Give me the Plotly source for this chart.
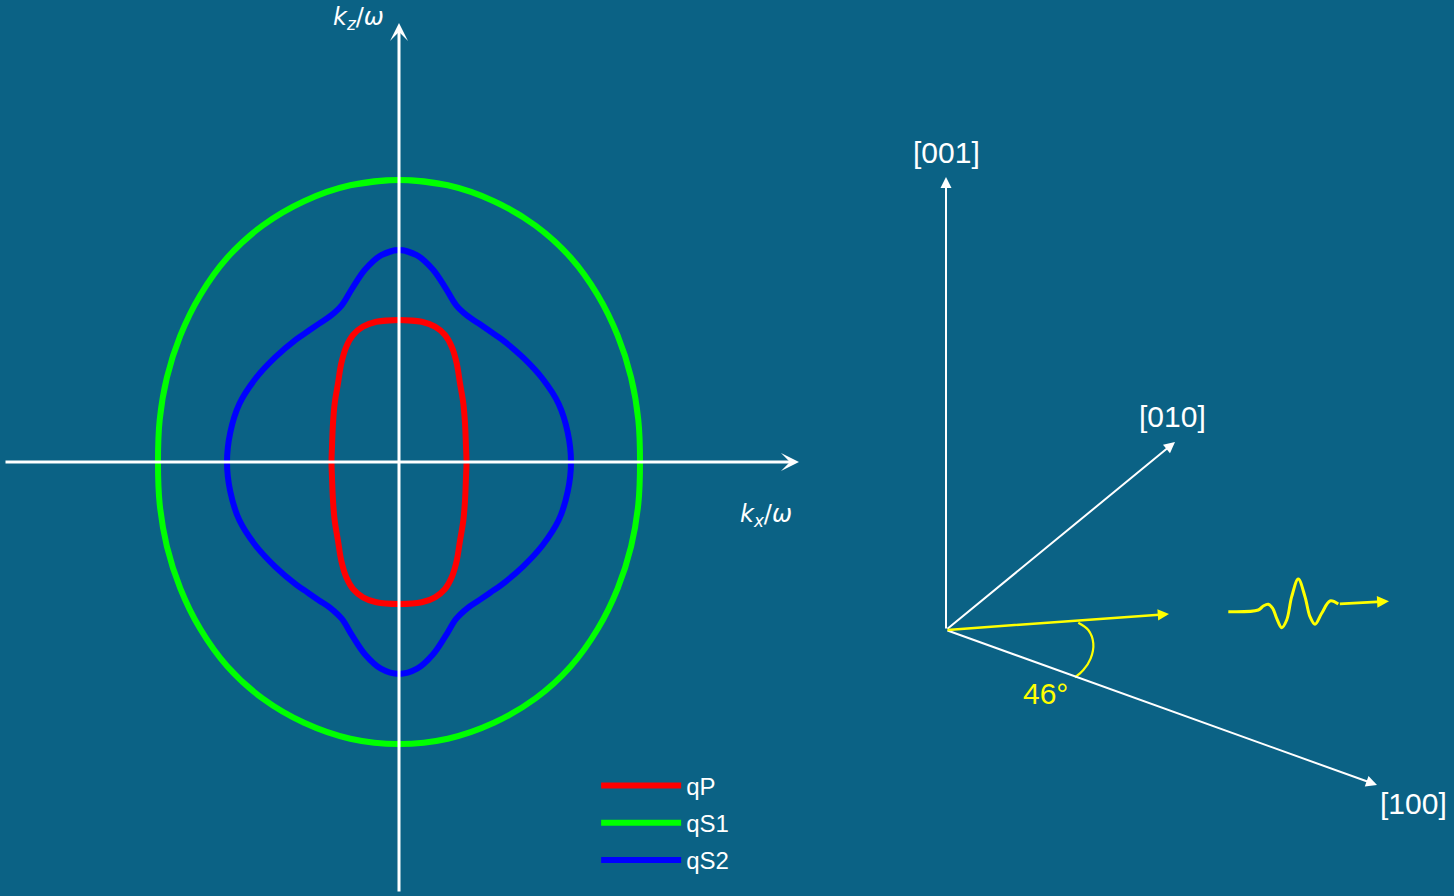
import numpy as np
import plotly.graph_objects as go

BG = "#0b6285"
WHITE = "#ffffff"
YELLOW = "#ffff00"

# ---------------- slowness curves (first quadrant, kx/ω , kz/ω) ----------------
series_names = ["qP", "qS1", "qS2"]
series_colors = ["#ff0000", "#00ff00", "#0000ff"]

qP_kx = [0.0, 0.0227, 0.0360, 0.0460, 0.0527, 0.0577, 0.0610, 0.0643, 0.0660, 0.0670, 0.0675]
qP_kz = [0.1420, 0.1403, 0.1353, 0.1270, 0.1153, 0.0987, 0.0787, 0.0587, 0.0387, 0.0153, 0.0]

qS1_kx = [0.0, 0.0488, 0.0949, 0.1365, 0.1716, 0.1988, 0.2187, 0.2321, 0.2393, 0.2410]
qS1_kz = [0.2820, 0.2767, 0.2608, 0.2364, 0.2045, 0.1668, 0.1263, 0.0845, 0.0422, 0.0]

qS2_kx = [0.0, 0.0181, 0.0339, 0.0466, 0.0571, 0.0682, 0.0799, 0.0914, 0.1028, 0.1242,
          0.1438, 0.1597, 0.1687, 0.1720]
qS2_kz = [0.2120, 0.2067, 0.1925, 0.1739, 0.1569, 0.1463, 0.1384, 0.1305, 0.1226, 0.1043,
          0.0830, 0.0581, 0.0297, 0.0]

# axis extents of the slowness plot
kx_axis = [-0.395, 0.400]
kz_axis = [-0.431, 0.439]

# ---------------- crystal-axes sketch ----------------
sketch_origin = [0.547, -0.168]
crystal_labels = ["[100]", "[010]", "[001]"]
crystal_dx = [0.431, 0.229, 0.0]
crystal_dz = [-0.155, 0.188, 0.453]
prop_dir = [0.223, 0.016]
angle_label = "46°"
arc_dx = [0.1323, 0.1423, 0.1473, 0.1447, 0.1373, 0.1290]
arc_dz = [0.0073, 0.0, -0.0133, -0.0283, -0.0400, -0.0473]
wave_dx = [0.2823, 0.3123, 0.3173, 0.3223, 0.3267, 0.3307, 0.3357, 0.3407, 0.3457, 0.3523,
           0.3590, 0.3640, 0.3690, 0.3757, 0.3840, 0.3923]
wave_dz = [0.0183, 0.0200, 0.0240, 0.0257, 0.0217, 0.0117, 0.0023, 0.0100, 0.0333, 0.0510,
           0.0333, 0.0133, 0.0057, 0.0167, 0.0290, 0.0260]
wave_tip = [0.4430, 0.0287]


def closed_curve(kx, kz):
    kx = np.asarray(kx)
    kz = np.asarray(kz)
    x = np.concatenate([[-kx[1]], kx, kx[::-1][1:], -kx[1:], -kx[::-1][1:], [kx[1]]])
    z = np.concatenate([[kz[1]], kz, -kz[::-1][1:], -kz[1:], kz[::-1][1:], [kz[1]]])
    return x, z


fig = go.Figure()

curves = [(qP_kx, qP_kz), (qS1_kx, qS1_kz), (qS2_kx, qS2_kz)]
for name, color, (kx, kz) in zip(series_names, series_colors, curves):
    x, z = closed_curve(kx, kz)
    fig.add_trace(go.Scatter(x=x, y=z, mode="lines", name=name, legendgroup=name,
                             line=dict(color=color, width=6, shape="spline", smoothing=1.0),
                             hoverinfo="skip"))

ox, oz = sketch_origin
# angle arc
fig.add_trace(go.Scatter(x=ox + np.asarray(arc_dx), y=oz + np.asarray(arc_dz), mode="lines",
                         line=dict(color=YELLOW, width=2.2, shape="spline"),
                         showlegend=False, hoverinfo="skip"))
# wavelet
fig.add_trace(go.Scatter(x=ox + np.asarray(wave_dx), y=oz + np.asarray(wave_dz), mode="lines",
                         line=dict(color=YELLOW, width=3, shape="spline"),
                         showlegend=False, hoverinfo="skip"))

ann = []


def arrow(x0, y0, x1, y1, color, width, head, size):
    ann.append(dict(x=x1, y=y1, ax=x0, ay=y0, xref="x", yref="y", axref="x", ayref="y",
                    text="", showarrow=True, arrowhead=head, arrowsize=size,
                    arrowwidth=width, arrowcolor=color, standoff=0))


# main axes
arrow(kx_axis[0], 0, kx_axis[1], 0, WHITE, 3, 3, 1.0)
arrow(0, kz_axis[0], 0, kz_axis[1], WHITE, 3, 3, 1.0)
label_font = dict(family="DejaVu Sans", size=24, color=WHITE)
ann.append(dict(x=0, y=kz_axis[1], xref="x", yref="y", showarrow=False,
                text="<i>k</i><sub><i>z</i></sub>/<i>ω</i>", font=label_font,
                xshift=-41, yshift=5))
ann.append(dict(x=kx_axis[1], y=0, xref="x", yref="y", showarrow=False,
                text="<i>k</i><sub><i>x</i></sub>/<i>ω</i>", font=label_font,
                xshift=-33, yshift=-53))

# crystal axes
label_shift = {"[100]": (36, -18), "[010]": (-3, 26), "[001]": (0, 25)}
for lab, dx, dz in zip(crystal_labels, crystal_dx, crystal_dz):
    arrow(ox, oz, ox + dx, oz + dz, WHITE, 2, 2, 1.1)
    sx, sy = label_shift[lab]
    ann.append(dict(x=ox + dx, y=oz + dz, xref="x", yref="y", showarrow=False, text=lab,
                    font=dict(family="Liberation Sans", size=30, color=WHITE),
                    xshift=sx, yshift=sy))

# propagation direction
arrow(ox, oz, ox + prop_dir[0], oz + prop_dir[1], YELLOW, 2.5, 2, 0.9)
arrow(ox + wave_dx[-1], oz + wave_dz[-1], ox + wave_tip[0], oz + wave_tip[1], YELLOW, 2.8, 2, 0.85)
ann.append(dict(x=ox, y=oz, xref="x", yref="y", showarrow=False, text=angle_label,
                font=dict(family="Liberation Sans", size=30, color=YELLOW),
                xshift=99, yshift=-63))

fig.update_layout(
    width=1454, height=896,
    margin=dict(l=0, r=0, t=0, b=0),
    paper_bgcolor=BG, plot_bgcolor=BG,
    xaxis=dict(range=[-0.399, 1.055], visible=False, fixedrange=True),
    yaxis=dict(range=[-0.434, 0.462], visible=False, fixedrange=True),
    annotations=ann,
    showlegend=True,
    legend=dict(x=0.41, y=0.148, xanchor="left", yanchor="top",
                bgcolor="rgba(0,0,0,0)", itemwidth=80, traceorder="grouped",
                tracegroupgap=3,
                font=dict(family="Liberation Sans", size=24, color=WHITE)),
)

fig.write_html("out.html")
